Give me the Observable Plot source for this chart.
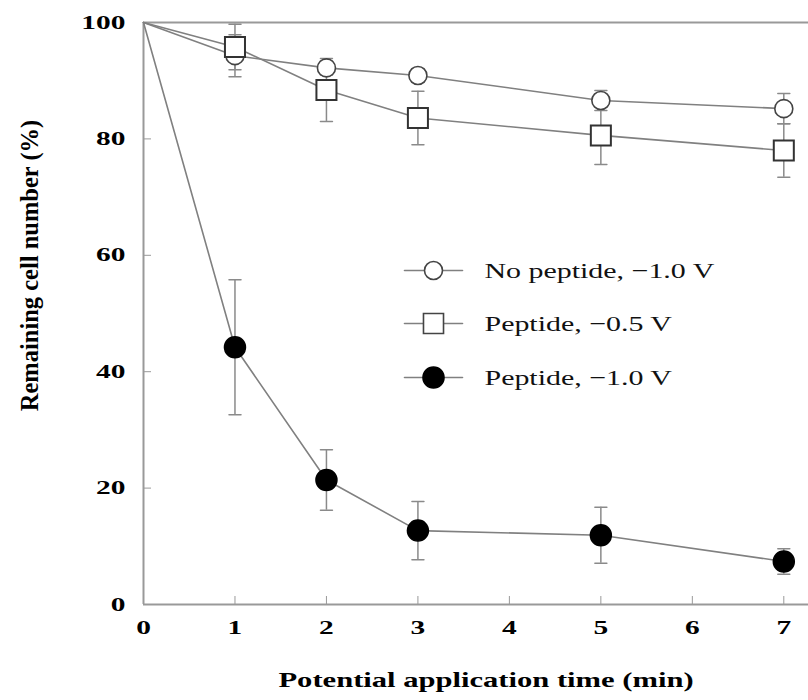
<!DOCTYPE html>
<html><head><meta charset="utf-8">
<script src="https://cdn.jsdelivr.net/npm/d3@7"></script>
<script src="https://cdn.jsdelivr.net/npm/@observablehq/plot@0.6"></script>
<style>body{margin:0;background:#fff} svg{display:block}</style>
</head><body><div id="chart"></div>
<script>
const times = [0, 1, 2, 3, 5, 7];
const seriesNames = ["No peptide, \u22121.0 V", "Peptide, \u22120.5 V", "Peptide, \u22121.0 V"];
const noPeptide10 = [100, 94.3, 92.2, 90.9, 86.6, 85.2];
const noPeptide10Err = [0, 3.6, 1.2, 1.2, 1.7, 2.6];
const peptide05 = [100, 95.8, 88.4, 83.6, 80.6, 78.0];
const peptide05Err = [0, 3.9, 5.4, 4.6, 5.0, 4.6];
const peptide10 = [100, 44.2, 21.4, 12.7, 11.9, 7.4];
const peptide10Err = [0, 11.6, 5.2, 5.0, 4.8, 2.2];
const xTicks = [0, 1, 2, 3, 4, 5, 6, 7];
const yTicks = [0, 20, 40, 60, 80, 100];
const xTitle = "Potential application time (min)";
const yTitle = "Remaining cell number (%)";

const serif = "'Liberation Serif', 'Times New Roman', serif";
const build = (name, vals, errs) => times.map((t, i) => ({series: name, t, v: vals[i], e: errs[i]}));
const sNo = build(seriesNames[0], noPeptide10, noPeptide10Err);
const s05 = build(seriesNames[1], peptide05, peptide05Err);
const s10 = build(seriesNames[2], peptide10, peptide10Err);
const all = [...sNo, ...s05, ...s10];
const errs = all.filter(d => d.e > 0);
const measured = d => d.t > 0; // the starting point (t = 0, 100 %) has no marker

const hline = {draw(ctx, l) { ctx.moveTo(0, 0); ctx.lineTo(0, -l); }};
const styles = [
  {symbol: "circle", r: 9, fill: "white"},
  {symbol: "square", r: 11.3, fill: "white"},
  {symbol: "circle", r: 10.5, fill: "black"}
];
const legendDy = [248, 301, 355];

const marks = [
  Plot.ruleY([0], {stroke: "#999", strokeWidth: 2}),
  Plot.ruleY([100], {stroke: "#999", strokeWidth: 2}),
  Plot.ruleX([0], {stroke: "#999", strokeWidth: 2}),
  Plot.axisX(xTicks, {tickSize: -8, tickPadding: 24, stroke: "#999", fill: "black", fontSize: 19, fontWeight: "bold", fontFamily: serif, label: null}),
  Plot.axisY(yTicks, {tickSize: -8, tickPadding: 26, stroke: "#999", fill: "black", fontSize: 19, fontWeight: "bold", fontFamily: serif, label: null}),
  Plot.line(all, {x: "t", y: "v", z: "series", stroke: "#808080", strokeWidth: 1.6}),
  Plot.ruleX(errs, {x: "t", y1: d => d.v - d.e, y2: d => d.v + d.e, stroke: "#8a8a8a", strokeWidth: 1.5}),
  Plot.vector(errs, {x: "t", y: d => d.v + d.e, rotate: 90, length: 12, anchor: "middle", shape: hline, stroke: "#8a8a8a", strokeWidth: 1.5}),
  Plot.vector(errs, {x: "t", y: d => d.v - d.e, rotate: 90, length: 12, anchor: "middle", shape: hline, stroke: "#8a8a8a", strokeWidth: 1.5}),
  Plot.dot(s10.filter(measured), {x: "t", y: "v", symbol: "circle", r: 10.5, fill: "black", stroke: "black"}),
  Plot.dot(sNo.filter(measured), {x: "t", y: "v", symbol: "circle", r: 9, fill: "white", stroke: "#444", strokeWidth: 1.6}),
  Plot.dot(s05.filter(measured), {x: "t", y: "v", symbol: "square", r: 11.3, fill: "white", stroke: "#333", strokeWidth: 2}),
  Plot.text([yTitle], {frameAnchor: "left", textAnchor: "middle", lineAnchor: "middle", rotate: -90, dx: -113, dy: -48, fontSize: 24.5, fontWeight: "bold", fontFamily: serif, fill: "black"}),
  Plot.text([xTitle], {frameAnchor: "bottom", textAnchor: "middle", lineAnchor: "middle", dx: 10, dy: 75, fontSize: 22, fontWeight: "bold", fontFamily: serif, fill: "black"})
];
seriesNames.forEach((name, i) => {
  marks.push(Plot.vector([name], {frameAnchor: "top-left", dx: 290, dy: legendDy[i], rotate: 90, length: 58, anchor: "middle", shape: hline, stroke: "#808080", strokeWidth: 1.6}));
  marks.push(Plot.dot([name], {frameAnchor: "top-left", dx: 290, dy: legendDy[i], symbol: styles[i].symbol, r: styles[i].r, fill: styles[i].fill, stroke: i === 2 ? "black" : "#444", strokeWidth: 1.6}));
  marks.push(Plot.text([name], {text: d => d, frameAnchor: "top-left", dx: 341, dy: legendDy[i], textAnchor: "start", lineAnchor: "middle", fontSize: 22, fontFamily: serif, fill: "#111"}));
});

const chart = Plot.plot({
  width: 808, height: 700,
  marginLeft: 143, marginTop: 22, marginBottom: 96, marginRight: 0,
  style: {fontFamily: serif, background: "white"},
  x: {domain: [0, 7.27], label: null},
  y: {domain: [0, 100], label: null},
  marks
});
document.getElementById("chart").append(chart);

// widen glyphs horizontally (the reference type is horizontally stretched)
function scaleText(t, f) {
  const tr = t.getAttribute("transform") || "";
  t.setAttribute("transform", `${tr} scale(${f},1)`);
}
chart.querySelectorAll('g[aria-label="y-axis tick label"] text, g[aria-label="x-axis tick label"] text').forEach(t => scaleText(t, 1.55));
chart.querySelectorAll('g[aria-label="text"] text').forEach(t => {
  const s = t.textContent;
  if (s === xTitle) scaleText(t, 1.39);
  else if (seriesNames.includes(s)) scaleText(t, 1.36);
});
</script>
</body></html>
